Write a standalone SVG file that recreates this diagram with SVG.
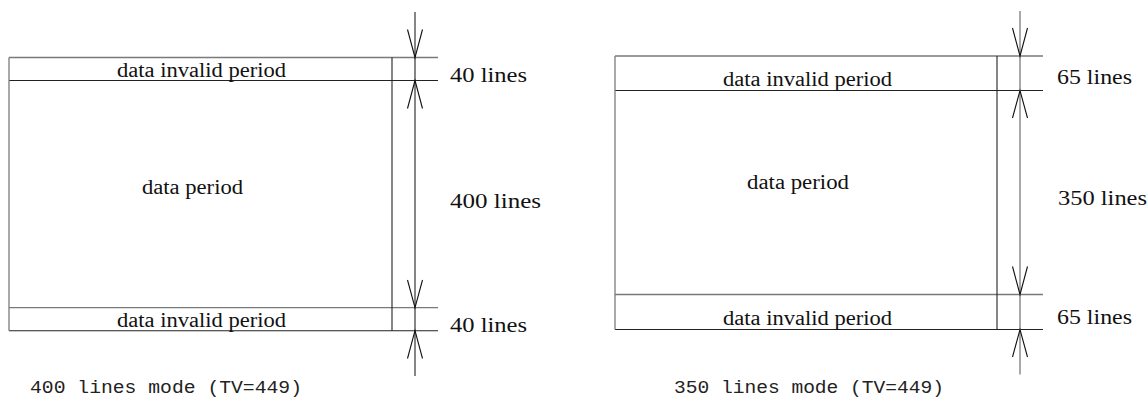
<svg xmlns="http://www.w3.org/2000/svg" width="1148" height="400" viewBox="0 0 1148 400">
<style>
  .g { stroke: #7a7a7a; stroke-width: 1.3; fill: none; }
  .k { stroke: #222; stroke-width: 1.1; fill: none; }
  .ah { stroke: #111; stroke-width: 1.1; fill: none; }
  .t { font-family: "Liberation Serif", "Times New Roman", serif; font-size: 20px; fill: #111; }
  .m { font-family: "Liberation Mono", "Courier New", monospace; font-size: 19px; fill: #222; }
</style>
<rect width="1148" height="400" fill="#fff"/>

<!-- Left diagram: 400 lines mode -->
<g id="left-top-invalid">
  <line class="g" x1="9" y1="57.5" x2="438" y2="57.5"/>
  <line class="k" x1="9" y1="80.5" x2="438" y2="80.5"/>
  <text class="t" x="117" y="77" textLength="169" lengthAdjust="spacingAndGlyphs">data invalid period</text>
</g>
<g id="left-data">
  <text class="t" x="142" y="193.5" textLength="101" lengthAdjust="spacingAndGlyphs">data period</text>
</g>
<g id="left-bottom-invalid">
  <line class="g" x1="9" y1="307.7" x2="438" y2="307.7"/>
  <line class="k" x1="9" y1="330.7" x2="438" y2="330.7"/>
  <text class="t" x="117" y="327.3" textLength="169" lengthAdjust="spacingAndGlyphs">data invalid period</text>
</g>
<g id="left-frame">
  <line class="g" x1="9" y1="57.5" x2="9" y2="330.7"/>
  <line class="k" x1="392" y1="57.5" x2="392" y2="330.7"/>
</g>
<g id="left-labels">
  <text class="t" x="450" y="82" textLength="77" lengthAdjust="spacingAndGlyphs">40 lines</text>
  <text class="t" x="450" y="208" textLength="91" lengthAdjust="spacingAndGlyphs">400 lines</text>
  <text class="t" x="450" y="332" textLength="77" lengthAdjust="spacingAndGlyphs">40 lines</text>
  <text class="m" x="30" y="393" textLength="272" lengthAdjust="spacingAndGlyphs">400 lines mode (TV=449)</text>
</g>

<!-- Right diagram: 350 lines mode -->
<g id="right-top-invalid">
  <line class="g" x1="615" y1="56" x2="1043" y2="56"/>
  <line class="k" x1="615" y1="90.5" x2="1043" y2="90.5"/>
  <text class="t" x="723" y="86" textLength="169" lengthAdjust="spacingAndGlyphs">data invalid period</text>
</g>
<g id="right-data">
  <text class="t" x="747" y="188.5" textLength="102" lengthAdjust="spacingAndGlyphs">data period</text>
</g>
<g id="right-bottom-invalid">
  <line class="g" x1="615" y1="294.5" x2="1043" y2="294.5"/>
  <line class="k" x1="615" y1="329.5" x2="1043" y2="329.5"/>
  <text class="t" x="723" y="325" textLength="169" lengthAdjust="spacingAndGlyphs">data invalid period</text>
</g>
<g id="right-frame">
  <line class="g" x1="615" y1="56" x2="615" y2="329.5"/>
  <line class="k" x1="997" y1="56" x2="997" y2="329.5"/>
</g>
<g id="right-labels">
  <text class="t" x="1057" y="84" textLength="75" lengthAdjust="spacingAndGlyphs">65 lines</text>
  <text class="t" x="1058" y="205" textLength="89" lengthAdjust="spacingAndGlyphs">350 lines</text>
  <text class="t" x="1057" y="324" textLength="75" lengthAdjust="spacingAndGlyphs">65 lines</text>
  <text class="m" x="674" y="393" textLength="270" lengthAdjust="spacingAndGlyphs">350 lines mode (TV=449)</text>
</g>

<!-- Dimension connectors -->
<g id="connectors">
  <line class="k" x1="415" y1="12" x2="415" y2="376"/>
  <polyline class="ah" points="407.5,29.5 415,57.5 422.5,29.5"/>
  <polyline class="ah" points="407.5,108.5 415,80.5 422.5,108.5"/>
  <polyline class="ah" points="407.5,280 415,307.7 422.5,280"/>
  <polyline class="ah" points="407.5,358.5 415,330.7 422.5,358.5"/>

  <line class="g" x1="1020" y1="11" x2="1020" y2="374.5"/>
  <polyline class="ah" points="1012.5,28 1020,56 1027.5,28"/>
  <polyline class="ah" points="1012.5,118 1020,90.5 1027.5,118"/>
  <polyline class="ah" points="1012.5,266.5 1020,294.5 1027.5,266.5"/>
  <polyline class="ah" points="1012.5,357 1020,329.5 1027.5,357"/>
</g>
</svg>
